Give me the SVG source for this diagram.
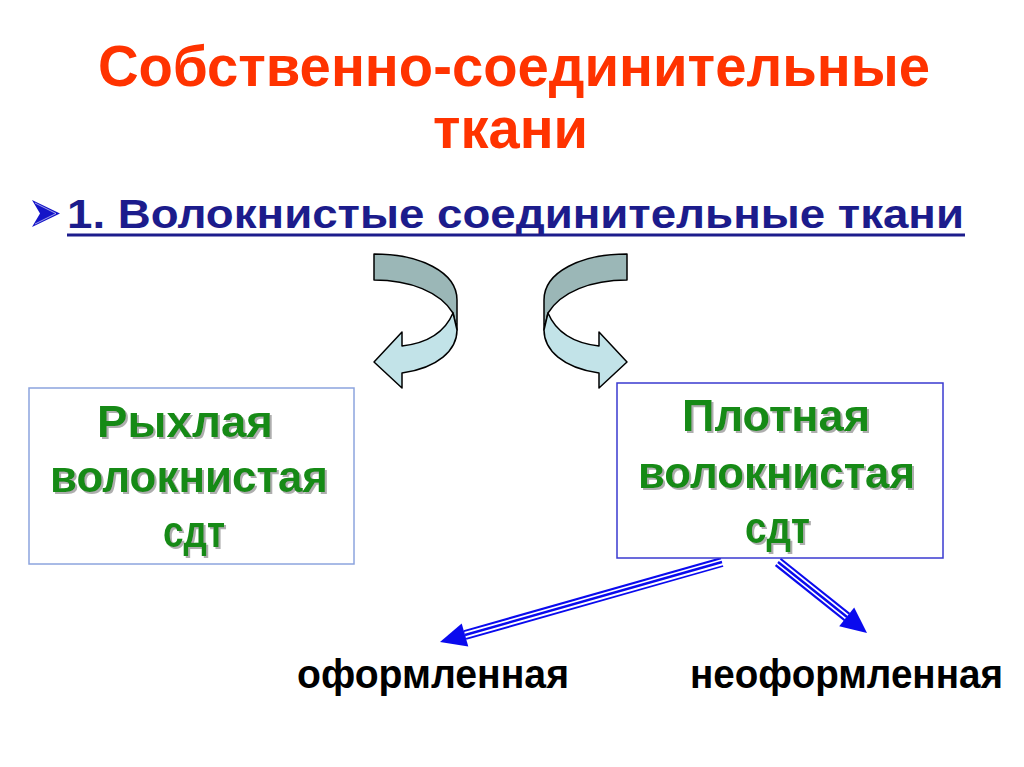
<svg xmlns="http://www.w3.org/2000/svg" xmlns:xlink="http://www.w3.org/1999/xlink" width="1024" height="767" viewBox="0 0 1024 767">
  <style>
    .title { font-family: "Liberation Sans Narrow", "Liberation Sans", Arial, sans-serif; font-weight: bold; font-size: 58px; fill: #FF3300; }
    .sub { font-family: "Liberation Sans", Arial, sans-serif; font-weight: bold; font-size: 40px; fill: #1C1C8C; }
    .green { font-family: "Liberation Sans", Arial, sans-serif; font-weight: bold; font-size: 44px; fill: #138A13; }
    .label { font-family: "Liberation Sans", Arial, sans-serif; font-weight: bold; font-size: 41px; fill: #000000; }
    .dark { fill: #9BB7B7; stroke: #000; stroke-width: 1.5; stroke-linejoin: round; }
    .light { fill: #C2E3E8; stroke: #000; stroke-width: 1.5; stroke-linejoin: round; }
    .l1 { fill: none; stroke: #0A0AEE; stroke-width: 10; }
    .l2 { fill: none; stroke: #FFFFFF; stroke-width: 6; }
    .l3 { fill: none; stroke: #0A0AEE; stroke-width: 2.4; }
    .head { fill: #0A0AEE; }
  </style>
  <defs>
    <filter id="shadow" x="-10%" y="-10%" width="130%" height="140%">
      <feDropShadow dx="2" dy="2" stdDeviation="0.6" flood-color="#9A9A9A" flood-opacity="0.8"/>
    </filter>
    <g id="curl">
      <path class="dark" d="M374,254 C420,254 457,272 457,300 L457,330 L453,313 C440,292 410,280 374,280 Z"/>
      <path class="light" d="M453,313 C445,332 428,343 402,346 L402,332 L374,362 L402,388 L402,373 C438,368 457,350 457,330 Z"/>
    </g>
  </defs>
  <rect width="1024" height="767" fill="#FFFFFF"/>

  <g id="title">
    <text class="title" x="98" y="86" textLength="832" lengthAdjust="spacingAndGlyphs">Собственно-соединительные</text>
    <text class="title" x="433" y="148" textLength="155" lengthAdjust="spacingAndGlyphs">ткани</text>
  </g>

  <g id="heading">
    <polygon points="32,200 60,213.5 32,227 40,213.5" fill="#1414C8"/>
    <polyline points="35,203 56,213.5 35,224" fill="none" stroke="#FFFFFF" stroke-width="1" opacity="0.6"/>
    <text class="sub" x="67" y="228" textLength="897" lengthAdjust="spacingAndGlyphs">1. Волокнистые соединительные ткани</text>
    <line x1="67" y1="235" x2="965" y2="235" stroke="#1C1C8C" stroke-width="3"/>
  </g>

  <g id="connectors">
    <use href="#curl" xlink:href="#curl"/>
    <use href="#curl" xlink:href="#curl" transform="translate(1001,0) scale(-1,1)"/>
    <g id="arrow-oformlennaya">
      <line class="l1" x1="722" y1="562" x2="465" y2="635"/>
      <line class="l2" x1="723" y1="562" x2="465" y2="635"/>
      <line class="l3" x1="722" y1="562" x2="465" y2="635"/>
      <polygon class="head" points="440,642 461.7,623.5 468.3,646.5"/>
    </g>
    <g id="arrow-neoformlennaya">
      <line class="l1" x1="778" y1="562" x2="847" y2="617"/>
      <line class="l2" x1="777" y1="561" x2="847" y2="617"/>
      <line class="l3" x1="778" y1="562" x2="847" y2="617"/>
      <polygon class="head" points="867,633 854.2,607.4 839.2,626.2"/>
    </g>
  </g>

  <g id="node-loose">
    <rect x="29" y="388" width="325" height="176" fill="#FFFFFF" stroke="#8CA4DE" stroke-width="1.5"/>
    <g filter="url(#shadow)">
      <text class="green" x="97" y="437" textLength="176" lengthAdjust="spacingAndGlyphs">Рыхлая</text>
      <text class="green" x="50" y="492" textLength="278" lengthAdjust="spacingAndGlyphs">волокнистая</text>
      <text class="green" x="163" y="547" textLength="62" lengthAdjust="spacingAndGlyphs">сдт</text>
    </g>
  </g>

  <g id="node-dense">
    <rect x="617" y="383" width="326" height="175" fill="#FFFFFF" stroke="#3A3AD0" stroke-width="1.5"/>
    <g filter="url(#shadow)">
      <text class="green" x="682" y="431" textLength="188" lengthAdjust="spacingAndGlyphs">Плотная</text>
      <text class="green" x="638" y="488" textLength="277" lengthAdjust="spacingAndGlyphs">волокнистая</text>
      <text class="green" x="745" y="543" textLength="65" lengthAdjust="spacingAndGlyphs">сдт</text>
    </g>
  </g>

  <g id="node-oformlennaya">
    <text class="label" x="297" y="688" textLength="272" lengthAdjust="spacingAndGlyphs">оформленная</text>
  </g>
  <g id="node-neoformlennaya">
    <text class="label" x="690" y="688" textLength="313" lengthAdjust="spacingAndGlyphs">неоформленная</text>
  </g>
</svg>
